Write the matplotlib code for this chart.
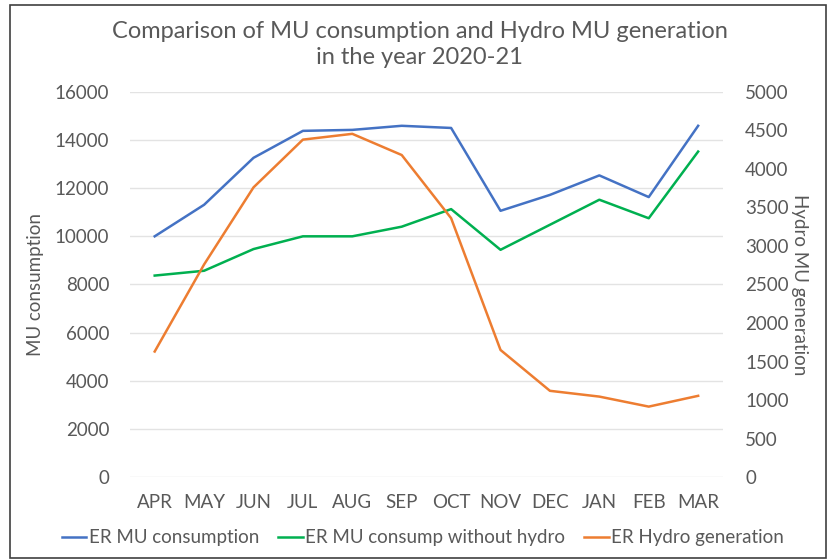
import numpy as np
import matplotlib.pyplot as plt
from matplotlib.patches import Rectangle

months = ['APR', 'MAY', 'JUN', 'JUL', 'AUG', 'SEP', 'OCT', 'NOV', 'DEC', 'JAN', 'FEB', 'MAR']
mu_consumption = [10000, 11310, 13260, 14380, 14420, 14590, 14500, 11060, 11720, 12530, 11630, 14590]
mu_without_hydro = [8370, 8570, 9470, 10000, 10000, 10400, 11130, 9440, 10480, 11520, 10750, 13520]
hydro_generation = [1630, 2760, 3760, 4380, 4455, 4180, 3360, 1650, 1120, 1045, 915, 1055]

plt.rcParams['font.family'] = ['Lato', 'DejaVu Sans']
grey = '#595959'

fig = plt.figure(figsize=(8.28, 5.6), dpi=100)
ax = fig.add_axes([0.157, 0.148, 0.716, 0.688])
ax2 = ax.twinx()

x = np.arange(len(months))
l1, = ax.plot(x, mu_consumption, color='#4472C4', lw=1.8, label='ER MU consumption')
l2, = ax.plot(x, mu_without_hydro, color='#00B050', lw=1.8, label='ER MU consump without hydro')
l3, = ax2.plot(x, hydro_generation, color='#ED7D31', lw=1.8, label='ER Hydro generation')

ax.set_xlim(-0.5, len(months) - 0.5)
ax.set_ylim(0, 16000)
ax2.set_ylim(0, 5000)
ax.set_yticks(np.arange(0, 16001, 2000))
ax2.set_yticks(np.arange(0, 5001, 500))
ax.set_xticks(x)
ax.set_xticklabels(months)
ax.grid(axis='y', color='#E3E3E3', lw=1)
ax.set_axisbelow(True)

for a in (ax, ax2):
    for s in a.spines.values():
        s.set_visible(False)
    a.tick_params(length=0, labelsize=13.5, colors=grey)
ax.tick_params(axis='y', pad=15)
ax2.tick_params(axis='y', pad=16)
ax.tick_params(axis='x', pad=12)

ax.set_ylabel('MU consumption', fontsize=13.5, color=grey, labelpad=8)
ax2.set_ylabel('Hydro MU generation', fontsize=13.5, color=grey, rotation=270, labelpad=14)

fig.text(0.507, 0.92, 'Comparison of MU consumption and Hydro MU generation\nin the year 2020-21',
         ha='center', va='center', fontsize=17, color=grey, linespacing=1.3)

fig.legend(handles=[l1, l2, l3], loc='center', bbox_to_anchor=(0.511, 0.04), ncol=3,
           frameon=False, fontsize=13.5, labelcolor=grey, handlelength=1.3,
           handletextpad=0.15, columnspacing=1.0)

fig.patches.append(Rectangle((10 / 828, 2 / 560), 816 / 828, 553 / 560, transform=fig.transFigure,
                             fill=False, edgecolor='#404040', lw=1.2))

fig.savefig('out.png', dpi=100)
